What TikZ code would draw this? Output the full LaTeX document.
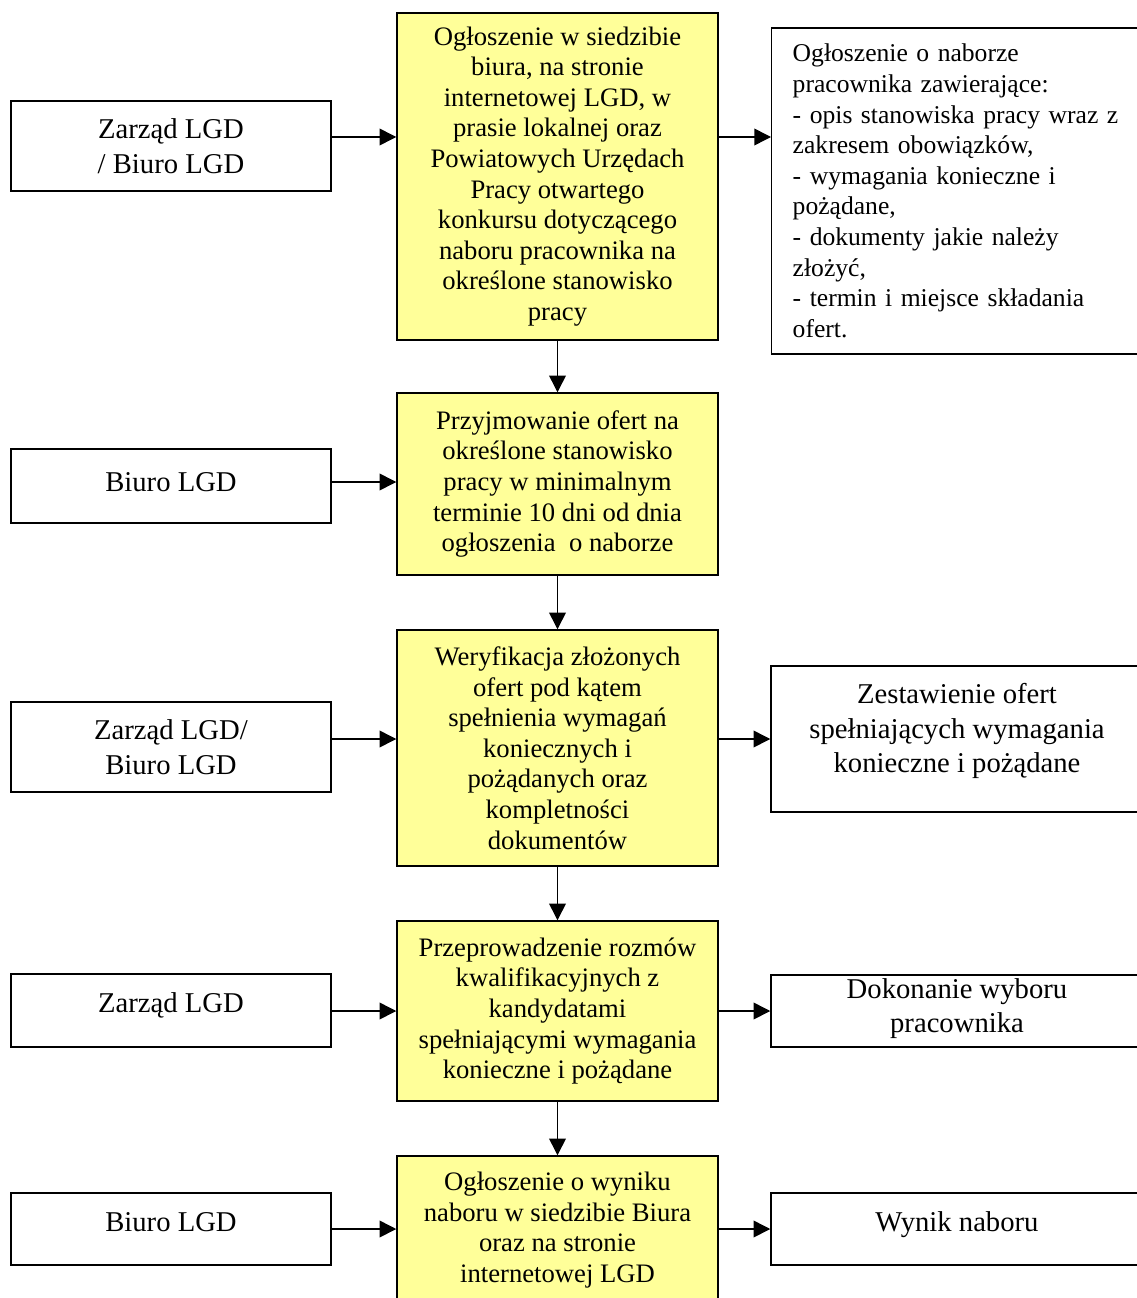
\documentclass[tikz,border=0pt]{standalone}
\usepackage{fontspec}
\setmainfont{Liberation Serif}
\usepackage{xcolor}
\usetikzlibrary{arrows.meta, positioning}
\definecolor{boxyellow}{HTML}{FFFF99}

\begin{document}
\begin{tikzpicture}[x=0.75pt, y=-0.75pt,
    box/.style={draw, line width=1.1pt, inner sep=0pt, align=center},
    side/.style={box, minimum width=240pt, font=\fontsize{21.5}{26}\selectfont},
    stage/.style={box, fill=boxyellow, minimum width=240.75pt, font=\fontsize{20}{22.95}\selectfont},
    result/.style={box, minimum width=279pt, font=\fontsize{21.5}{26}\selectfont},
    lift/.style={text depth=#1},
    arr/.style={line width=1.1pt, -{Triangle[length=12.5pt, width=12.5pt]}}]
  \useasboundingbox (0,0) rectangle (1137,1298);
  % rows of the arrows
  \coordinate (row1) at (0,137);
  \coordinate (row2) at (0,482);
  \coordinate (row3) at (0,739);
  \coordinate (row4) at (0,1011);
  \coordinate (row5) at (0,1229);
  % who does it
  \node[side, minimum height=67.5pt] (L1) at (171,146) {Zarząd LGD\\/ Biuro LGD};
  \node[side, minimum height=55.5pt, lift=6pt] (L2) at (171,486) {Biuro LGD};
  \node[side, minimum height=67.5pt] (L3) at (171,747) {Zarząd LGD/\\Biuro LGD};
  \node[side, minimum height=54.75pt, lift=12pt] (L4) at (171,1010.5) {Zarząd LGD};
  \node[side, minimum height=54pt, lift=11pt] (L5) at (171,1229) {Biuro LGD};
  % stages
  \node[stage, minimum height=245.25pt] (M1) at (557.5,176.5) {Ogłoszenie w siedzibie\\biura, na stronie\\internetowej LGD, w\\prasie lokalnej oraz\\Powiatowych Urzędach\\Pracy otwartego\\konkursu dotyczącego\\naboru pracownika na\\określone stanowisko\\pracy};
  \node[stage, minimum height=136.5pt] (M2) at (557.5,484) {Przyjmowanie ofert na\\określone stanowisko\\pracy w minimalnym\\terminie 10 dni od dnia\\ogłoszenia\ \ o naborze};
  \node[stage, minimum height=177pt] (M3) at (557.5,748) {Weryfikacja złożonych\\ofert pod kątem\\spełnienia wymagań\\koniecznych i\\pożądanych oraz\\kompletności\\dokumentów};
  \node[stage, minimum height=135pt] (M4) at (557.5,1011) {Przeprowadzenie rozmów\\kwalifikacyjnych z\\kandydatami\\spełniającymi wymagania\\konieczne i pożądane};
  \node[stage, minimum height=111pt] (M5) at (557.5,1230) {Ogłoszenie o wyniku\\naboru w siedzibie Biura\\oraz na stronie\\internetowej LGD};
  % results
  \node[box, anchor=west, minimum height=244.5pt, text width=330pt, inner xsep=15.75pt, align=left,
        font=\fontsize{19.2}{22.95}\selectfont] (R1) at (771,191) {Ogłoszenie o naborze\\pracownika zawierające:\\- opis stanowiska pracy wraz z\\zakresem obowiązków,\\- wymagania konieczne i\\pożądane,\\- dokumenty jakie należy\\złożyć,\\- termin i miejsce składania\\ofert.};
  \node[result, minimum height=109.5pt, lift=16.5pt] (R3) at (957,739) {Zestawienie ofert\\spełniających wymagania\\konieczne i pożądane};
  \node[result, minimum height=54pt, lift=8pt] (R4) at (957,1011) {Dokonanie wyboru\\pracownika};
  \node[result, minimum height=54pt, lift=11pt] (R5) at (957,1229) {Wynik naboru};
  % arrows
  \draw[arr] (L1.east |- row1) -- (M1.west |- row1);
  \draw[arr] (M1.east |- row1) -- (R1.west |- row1);
  \draw[arr] (L2.east |- row2) -- (M2.west |- row2);
  \draw[arr] (L3.east |- row3) -- (M3.west |- row3);
  \draw[arr] (M3.east |- row3) -- (R3.west |- row3);
  \draw[arr] (L4.east |- row4) -- (M4.west |- row4);
  \draw[arr] (M4.east |- row4) -- (R4.west |- row4);
  \draw[arr] (L5.east |- row5) -- (M5.west |- row5);
  \draw[arr] (M5.east |- row5) -- (R5.west |- row5);
  \draw[arr] (M1) -- (M2);
  \draw[arr] (M2) -- (M3);
  \draw[arr] (M3) -- (M4);
  \draw[arr] (M4) -- (M5);
\end{tikzpicture}
\end{document}
